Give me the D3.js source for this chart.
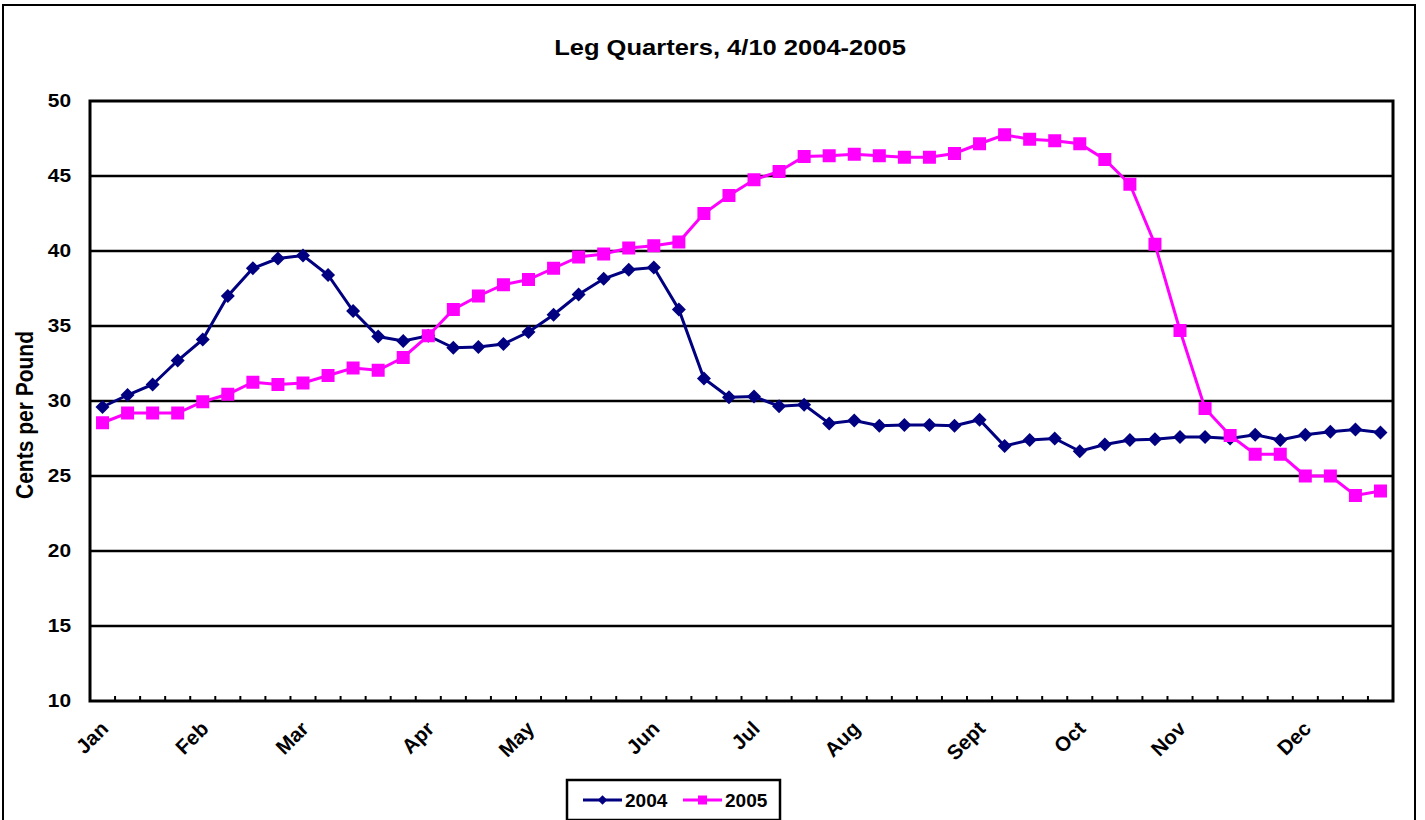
<!DOCTYPE html>
<html>
<head>
<meta charset="utf-8">
<script src="https://cdn.jsdelivr.net/npm/d3@7"></script>
<style>
  html, body { margin: 0; padding: 0; background: #fff; }
  svg { display: block; font-family: "Liberation Sans", Arial, sans-serif; }
</style>
</head>
<body>
<svg id="chart" width="1425" height="820"></svg>
<script>
// Weekly leg quarter prices, cents per pound
const weeks = d3.range(52);
const series2004 = [29.6, 30.4, 31.1, 32.7, 34.1, 37.0, 38.85, 39.5, 39.7, 38.4,
  36.0, 34.3, 34.0, 34.35, 33.55, 33.6, 33.8, 34.6, 35.75, 37.1,
  38.15, 38.75, 38.9, 36.1, 31.5, 30.25, 30.3, 29.65, 29.75, 28.5,
  28.7, 28.35, 28.4, 28.4, 28.35, 28.75, 27.0, 27.4, 27.5, 26.65,
  27.1, 27.4, 27.45, 27.6, 27.6, 27.5, 27.75, 27.4, 27.75, 27.95,
  28.1, 27.9];
const series2005 = [28.55, 29.2, 29.2, 29.2, 29.95, 30.45, 31.25, 31.1, 31.2, 31.7,
  32.2, 32.05, 32.9, 34.35, 36.1, 37.0, 37.75, 38.1, 38.85, 39.6,
  39.8, 40.2, 40.35, 40.6, 42.5, 43.7, 44.75, 45.3, 46.3, 46.35,
  46.45, 46.35, 46.25, 46.25, 46.5, 47.15, 47.75, 47.45, 47.35, 47.15,
  46.1, 44.45, 40.45, 34.7, 29.5, 27.7, 26.45, 26.45, 25.0, 25.0,
  23.7, 24.0];
// Month labels and the week each one sits on
const monthLabels = ["Jan", "Feb", "Mar", "Apr", "May", "Jun", "Jul", "Aug", "Sept", "Oct", "Nov", "Dec"];
const monthWeeks = [0, 4, 8, 13, 17, 22, 26, 30, 35, 39, 43, 48];
const yTicks = [10, 15, 20, 25, 30, 35, 40, 45, 50];
const seriesNames = ["2004", "2005"];

const svg = d3.select("#chart");
const plot = { left: 90, top: 101, right: 1393, bottom: 701 };
const stretch = 1.16; // text is drawn slightly wide

// Outer chart frame
svg.append("rect").attr("x", 3).attr("y", 5).attr("width", 1412).attr("height", 830)
  .attr("fill", "#fff").attr("stroke", "#000").attr("stroke-width", 2);

const x = d3.scaleBand().domain(weeks).range([plot.left, plot.right]).padding(0);
const y = d3.scaleLinear().domain([10, 50]).range([plot.bottom, plot.top]);

// Horizontal gridlines
svg.append("g").selectAll("line").data(yTicks.filter(d => d > 10 && d < 50)).join("line")
  .attr("x1", plot.left).attr("x2", plot.right)
  .attr("y1", d => y(d)).attr("y2", d => y(d))
  .attr("stroke", "#000").attr("stroke-width", 2.5);

// Y axis tick labels
svg.append("g").selectAll("text").data(yTicks).join("text")
  .attr("transform", d => `translate(71,${y(d)}) scale(${stretch},1)`)
  .attr("dy", "0.36em")
  .attr("text-anchor", "end").attr("font-weight", "bold").attr("font-size", 18)
  .text(d => d);

// X axis tick marks at week boundaries, pointing into the plot
svg.append("g").selectAll("line").data(d3.range(1, 52)).join("line")
  .attr("x1", d => x(d)).attr("x2", d => x(d))
  .attr("y1", plot.bottom).attr("y2", plot.bottom - 5)
  .attr("stroke", "#000").attr("stroke-width", 2);

// Plot area frame
svg.append("rect").attr("x", plot.left).attr("y", plot.top)
  .attr("width", plot.right - plot.left).attr("height", plot.bottom - plot.top)
  .attr("fill", "none").attr("stroke", "#000").attr("stroke-width", 3);

// Month labels, rotated
svg.append("g").selectAll("text").data(monthWeeks).join("text")
  .attr("transform", d => `translate(${x(d) + x.bandwidth() / 2 + 7},${plot.bottom + 29}) rotate(-45)`)
  .attr("text-anchor", "end").attr("font-weight", "bold").attr("font-size", 20.5)
  .text((d, i) => monthLabels[i]);

// Title
svg.append("text").attr("transform", `translate(730,55) scale(${stretch},1)`)
  .attr("text-anchor", "middle")
  .attr("font-weight", "bold").attr("font-size", 22)
  .text("Leg Quarters, 4/10 2004-2005");

// Y axis title
svg.append("text").attr("transform", `translate(33,415) scale(${stretch},1) rotate(-90)`)
  .attr("text-anchor", "middle").attr("font-weight", "bold").attr("font-size", 21)
  .text("Cents per Pound");

const cx = i => x(i) + x.bandwidth() / 2;
const line = d3.line().x((d, i) => cx(i)).y(d => y(d));

function drawSeries(values, color, shape) {
  const g = svg.append("g");
  g.append("path").datum(values).attr("d", line)
    .attr("fill", "none").attr("stroke", color).attr("stroke-width", 3);
  if (shape === "diamond") {
    g.selectAll("path.m").data(values).join("path").attr("class", "m")
      .attr("d", d3.symbol().type(d3.symbolSquare).size(98)())
      .attr("transform", (d, i) => `translate(${cx(i)},${y(d)}) rotate(45)`)
      .attr("fill", color);
  } else {
    g.selectAll("rect.m").data(values).join("rect").attr("class", "m")
      .attr("x", (d, i) => cx(i) - 6.5).attr("y", d => y(d) - 6.5)
      .attr("width", 13).attr("height", 13).attr("fill", color);
  }
}
drawSeries(series2004, "#000080", "diamond");
drawSeries(series2005, "#FF00FF", "square");

// Legend
const lg = svg.append("g");
lg.append("rect").attr("x", 567).attr("y", 780).attr("width", 213).attr("height", 40)
  .attr("fill", "#fff").attr("stroke", "#000").attr("stroke-width", 2.5);
const legendItems = [
  { name: seriesNames[0], color: "#000080", x0: 583, shape: "diamond" },
  { name: seriesNames[1], color: "#FF00FF", x0: 683, shape: "square" }
];
legendItems.forEach(it => {
  lg.append("line").attr("x1", it.x0).attr("x2", it.x0 + 39).attr("y1", 800).attr("y2", 800)
    .attr("stroke", it.color).attr("stroke-width", 3);
  if (it.shape === "diamond") {
    lg.append("path").attr("d", d3.symbol().type(d3.symbolSquare).size(45)())
      .attr("transform", `translate(${it.x0 + 19.5},800) rotate(45)`).attr("fill", it.color);
  } else {
    lg.append("rect").attr("x", it.x0 + 15).attr("y", 795.5).attr("width", 9).attr("height", 9)
      .attr("fill", it.color);
  }
  lg.append("text").attr("transform", `translate(${it.x0 + 42},806.5) scale(1.06,1)`)
    .attr("font-weight", "bold").attr("font-size", 18).text(it.name);
});
</script>
</body>
</html>
